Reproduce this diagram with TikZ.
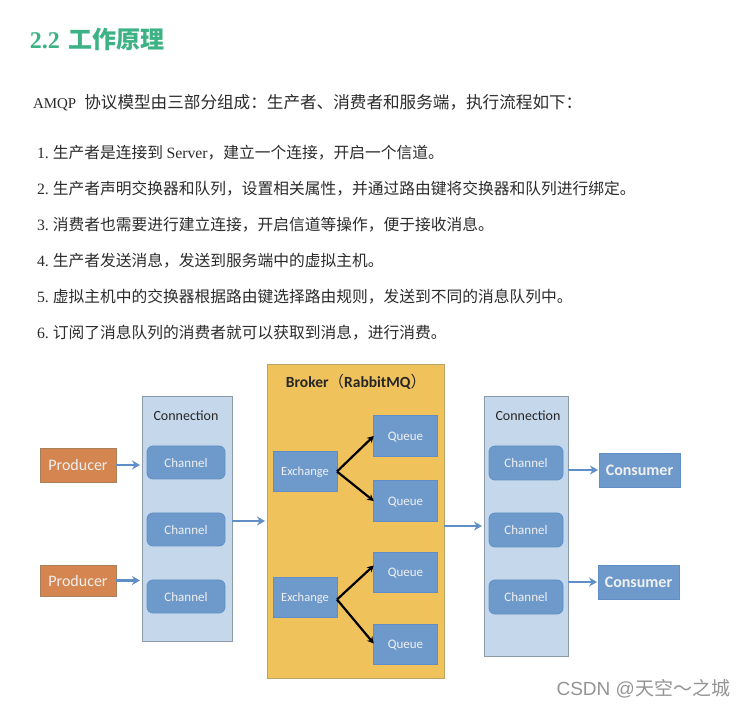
\documentclass[tikz,border=0pt]{standalone}
\usepackage{fontspec}
\setmainfont{Noto Sans CJK SC}
\newfontfamily\headfont{Liberation Serif}
\newfontfamily\boxfont{Carlito}
\newfontfamily\markfont{Liberation Sans}
\usetikzlibrary{arrows.meta}
\definecolor{headgreen}{HTML}{3DB285}
\definecolor{bodytext}{HTML}{2B2B2B}
\definecolor{prodfill}{HTML}{D5854F}
\definecolor{bluefill}{HTML}{6E9ACB}
\definecolor{bluearrow}{HTML}{5F8FC6}
\definecolor{connfill}{HTML}{C5D8EB}
\definecolor{connline}{HTML}{8C9BA9}
\definecolor{brokerfill}{HTML}{F0C25B}
\definecolor{brokerline}{HTML}{B9A265}
\tikzset{
  every node/.style={inner sep=0pt, outer sep=0pt},
  line/.style={anchor=west, text=bodytext, font=\fontsize{15.75}{16}\selectfont},
  base/.style={draw, line width=.8pt, font=\boxfont},
  prod/.style={base, fill=prodfill, draw=brown!60!gray, text=white!94!black,
    minimum width=76pt, text height=15pt, text depth=3.5pt, font=\boxfont\fontsize{16}{16}\selectfont},
  cons/.style={base, fill=bluefill, draw=bluearrow, text=white!94!black, text height=13.6pt, text depth=3.5pt,
    minimum width=81pt, minimum height=34pt, font=\boxfont\bfseries\fontsize{16}{16}\selectfont},
  conn/.style={base, fill=connfill, draw=connline},
  chan/.style={base, fill=bluefill, draw=bluearrow, rounded corners=6pt, text=white!94!black,
    text height=12.5pt, text depth=2.8pt, minimum height=33pt, font=\boxfont\fontsize{13}{14}\selectfont},
  exch/.style={base, fill=bluefill, draw=bluearrow, text=white!94!black, text height=11.5pt, text depth=2.7pt,
    minimum width=64pt, minimum height=40.5pt, font=\boxfont\fontsize{12.5}{14}\selectfont},
  que/.style={base, fill=bluefill, draw=bluearrow, text=white!94!black, text height=11.6pt, text depth=2.7pt,
    minimum width=63.5pt, minimum height=40.5pt, font=\boxfont\fontsize{13}{14}\selectfont},
  title/.style={text=black!85, font=\boxfont\fontsize{14}{14}\selectfont},
  flow/.style={draw=bluearrow, line width=2.6pt, -{Stealth[length=8pt,width=9pt]}},
  route/.style={draw=black, line width=2.2pt, -{Stealth[length=6.5pt,width=7pt]}},
}
\begin{document}
\begin{tikzpicture}[x=1pt, y=-1pt]
\useasboundingbox (0,0) rectangle (745,708);
% text above the diagram
\node[anchor=west, text=headgreen, font=\fontsize{24}{24}\bfseries\selectfont] (head) at (30,39)
  {{\headfont 2.2}\hspace{9pt}工作原理};
\node[line, font=\fontsize{16.6}{17}\selectfont] (intro) at (33,103) {{\fontsize{15}{15}\headfont AMQP}\hspace{8pt}协议模型由三部分组成：生产者、消费者和服务端，执行流程如下：};
\node[line] (stepA) at (37,153) {{\headfont 1.}\hspace{4pt}生产者是连接到 {\headfont Server}，建立一个连接，开启一个信道。};
\node[line] (stepB) at (37,189) {{\headfont 2.}\hspace{4pt}生产者声明交换器和队列，设置相关属性，并通过路由键将交换器和队列进行绑定。};
\node[line] (stepC) at (37,225) {{\headfont 3.}\hspace{4pt}消费者也需要进行建立连接，开启信道等操作，便于接收消息。};
\node[line] (stepD) at (37,261) {{\headfont 4.}\hspace{4pt}生产者发送消息，发送到服务端中的虚拟主机。};
\node[line] (stepE) at (37,297) {{\headfont 5.}\hspace{4pt}虚拟主机中的交换器根据路由键选择路由规则，发送到不同的消息队列中。};
\node[line] (stepF) at (37,333) {{\headfont 6.}\hspace{4pt}订阅了消息队列的消费者就可以获取到消息，进行消费。};
% producers
\node[prod, minimum height=34pt] (prodA) at (78,465) {Producer};
\node[prod, minimum height=31pt] (prodB) at (78,580.5) {Producer};
% left connection
\node[conn, minimum width=90pt, minimum height=245pt] (connL) at (187,518.5) {};
\node[title] (connLname) at (186,416) {Connection};
\node[chan, minimum width=78pt] (chanA) at (186,462.5) {Channel};
\node[chan, minimum width=78pt] (chanB) at (186,529.5) {Channel};
\node[chan, minimum width=78pt] (chanC) at (186,596.5) {Channel};
% broker
\node[base, fill=brokerfill, draw=brokerline, minimum width=177pt, minimum height=314pt] (broker) at (355.5,521) {};
\node[title, font=\boxfont\bfseries\fontsize{15.5}{15}\selectfont] (brokername) at (356,381.5) {Broker{\rmfamily\mdseries（}RabbitMQ{\rmfamily\mdseries）}};
\node[exch] (exA) at (305,471.5) {Exchange};
\node[exch] (exB) at (305,597.5) {Exchange};
\node[que] (queA) at (405.5,436) {Queue};
\node[que] (queB) at (405.5,501) {Queue};
\node[que] (queC) at (405.5,572.5) {Queue};
\node[que] (queD) at (405.5,644.5) {Queue};
% right connection
\node[conn, minimum width=84pt, minimum height=260pt] (connR) at (526,526) {};
\node[title] (connRname) at (528,416) {Connection};
\node[chan, minimum width=74pt, minimum height=34pt] (chanD) at (526,463) {Channel};
\node[chan, minimum width=74pt, minimum height=34pt] (chanE) at (526,530) {Channel};
\node[chan, minimum width=74pt, minimum height=34pt] (chanF) at (526,597) {Channel};
% consumers
\node[cons] (consA) at (639.5,470) {Consumer};
\node[cons] (consB) at (638.5,582) {Consumer};
% connectors
\draw[flow, shorten >=2pt] (prodA.east) -- (prodA.east -| connL.west);
\draw[flow, shorten >=2pt] (prodB.east) -- (prodB.east -| connL.west);
\draw[flow, shorten >=2pt] (broker.west -| connL.east) -- (broker.west);
\draw[flow, shorten >=2pt] (connR.west -| broker.east) -- (connR.west);
\draw[flow, shorten >=1pt] (consA.west -| connR.east) -- (consA.west);
\draw[flow, shorten >=1pt] (consB.west -| connR.east) -- (consB.west);
\draw[route] (exA.east) -- (queA.west);
\draw[route] (exA.east) -- (queB.west);
\draw[route] ([yshift=-2pt]exB.east) -- ([yshift=7pt]queC.west);
\draw[route] ([yshift=-2pt]exB.east) -- ([yshift=1pt]queD.west);
% watermark
\node[anchor=east, text=black!42, font=\fontsize{19}{19}\selectfont] (mark) at (730,689) {{\markfont CSDN @}天空～之城};
\end{tikzpicture}
\end{document}
